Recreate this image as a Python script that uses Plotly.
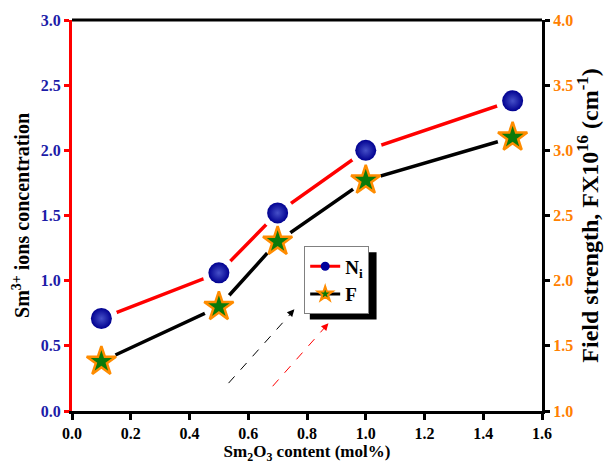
import plotly.graph_objects as go

x_content = [0.1, 0.5, 0.7, 1.0, 1.5]
ni_values = [0.71, 1.06, 1.52, 2.00, 2.38]
f_values = [1.38, 1.80, 2.30, 2.77, 3.10]
x_ticks = [0.0, 0.2, 0.4, 0.6, 0.8, 1.0, 1.2, 1.4, 1.6]
left_ticks = [0.0, 0.5, 1.0, 1.5, 2.0, 2.5, 3.0]
right_ticks = [1.0, 1.5, 2.0, 2.5, 3.0, 3.5, 4.0]

FONT = "Liberation Serif"
fig = go.Figure()

# lines
fig.add_trace(go.Scatter(x=x_content, y=ni_values, mode="lines",
                         line=dict(color="#ff0000", width=3.5), showlegend=False, hoverinfo="skip"))
fig.add_trace(go.Scatter(x=x_content, y=f_values, mode="lines", yaxis="y2",
                         line=dict(color="#000000", width=3.5), showlegend=False, hoverinfo="skip"))
# white halos producing gaps at markers
fig.add_trace(go.Scatter(x=x_content, y=ni_values, mode="markers",
                         marker=dict(symbol="circle", size=33, color="white"), showlegend=False, hoverinfo="skip"))
fig.add_trace(go.Scatter(x=x_content, y=f_values, mode="markers", yaxis="y2",
                         marker=dict(symbol="circle", size=31, color="white"), showlegend=False, hoverinfo="skip"))
# markers
fig.add_trace(go.Scatter(x=x_content, y=ni_values, mode="markers",
                         marker=dict(symbol="circle", size=21, color="#000090",
                                     gradient=dict(type="radial", color="#4650c8"),
                                     line=dict(width=0)),
                         showlegend=False))
fig.add_trace(go.Scatter(x=x_content, y=f_values, mode="markers", yaxis="y2",
                         marker=dict(symbol="star", size=22, color="#0a7a0a",
                                     line=dict(color="#ff8c00", width=2.5)),
                         showlegend=False))
# legend entries
fig.add_trace(go.Scatter(x=[None], y=[None], mode="lines+markers", name="N<sub>i</sub>",
                         line=dict(color="#ff0000", width=3),
                         marker=dict(symbol="circle", size=9, color="#00009c")))
fig.add_trace(go.Scatter(x=[None], y=[None], mode="lines+markers", name="F",
                         line=dict(color="#000000", width=3),
                         marker=dict(symbol="star", size=11, color="#0a7a0a",
                                     line=dict(color="#ff8c00", width=2))))

# legend shadow
fig.add_shape(type="rect", xref="paper", yref="paper",
              x0=0.506, x1=0.648, y0=0.234, y1=0.406,
              fillcolor="black", line=dict(width=0), layer="above")

# dashed arrows
fig.add_shape(type="line", x0=0.533, y0=0.214, x1=0.752, y1=0.765,
              line=dict(color="black", width=1, dash="dash"))
fig.add_shape(type="line", x0=0.683, y0=0.19, x1=0.868, y1=0.66,
              line=dict(color="red", width=1, dash="dash"))
fig.add_annotation(x=0.757, y=0.78, ax=0.745, ay=0.75, xref="x", yref="y", axref="x", ayref="y",
                   showarrow=True, arrowhead=2, arrowsize=1.2, arrowwidth=1.2, arrowcolor="black", text="")
fig.add_annotation(x=0.873, y=0.673, ax=0.861, ay=0.643, xref="x", yref="y", axref="x", ayref="y",
                   showarrow=True, arrowhead=2, arrowsize=1.2, arrowwidth=1.2, arrowcolor="red", text="")

fig.update_layout(
    width=608, height=466,
    margin=dict(l=72, r=56, t=20, b=54),
    paper_bgcolor="white", plot_bgcolor="white",
    font=dict(family=FONT, size=16, color="black"),
    showlegend=True,
    legend=dict(x=0.494, y=0.421, xanchor="left", yanchor="top",
                bgcolor="white", bordercolor="#808080", borderwidth=1,
                font=dict(family=FONT, size=19, color="black", weight="bold"),
                itemwidth=30, tracegroupgap=0),
    xaxis=dict(range=[0, 1.6], tickvals=x_ticks, ticktext=[f"{v:.1f}" for v in x_ticks],
               ticks="outside", ticklen=6, tickwidth=2.5, tickcolor="black",
               showline=True, linecolor="black", linewidth=3, mirror=False,
               showgrid=False, zeroline=False,
               tickfont=dict(family=FONT, size=16, color="black", weight="bold"),
               title=dict(text="Sm<sub>2</sub>O<sub>3</sub> content (mol%)", standoff=0,
                          font=dict(family=FONT, size=17, color="black", weight="bold"))),
    yaxis=dict(range=[0, 3.0], tickvals=left_ticks, ticktext=[f"{v:.1f}" for v in left_ticks],
               ticks="outside", ticklen=5, tickwidth=2.5, tickcolor="red",
               showline=True, linecolor="red", linewidth=3,
               showgrid=False, zeroline=False,
               tickfont=dict(family=FONT, size=16, color="#1c1ca8", weight="bold"),
               title=dict(text="Sm<sup>3+</sup> ions concentration", standoff=6,
                          font=dict(family=FONT, size=20, color="black", weight="bold"))),
    yaxis2=dict(range=[1.0, 4.0], tickvals=right_ticks, ticktext=[f"{v:.1f}" for v in right_ticks],
                overlaying="y", side="right",
                ticks="outside", ticklen=5, tickwidth=2.5, tickcolor="black",
                showline=True, linecolor="black", linewidth=3,
                showgrid=False, zeroline=False,
                tickfont=dict(family=FONT, size=16, color="#ff8000", weight="bold"),
                title=dict(text="Field strength, FX10<sup>16</sup> (cm<sup>-1</sup>)", standoff=6,
                           font=dict(family=FONT, size=24, color="black", weight="bold"))),
)
# top border
fig.add_shape(type="line", xref="paper", yref="paper", x0=0, x1=1, y0=1, y1=1,
              line=dict(color="black", width=3))

fig.write_html("out.html")
